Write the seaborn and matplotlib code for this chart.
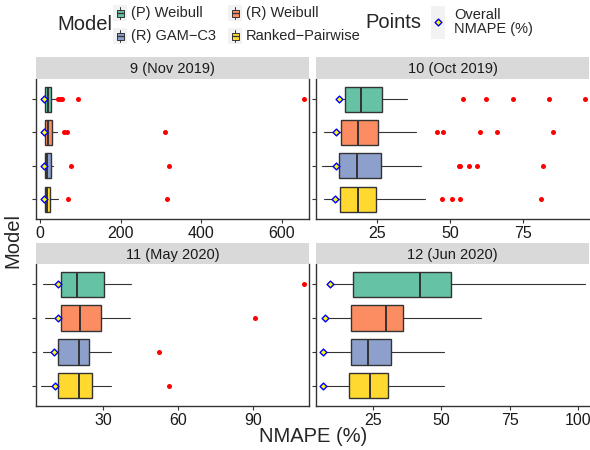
import matplotlib
matplotlib.use("Agg")
import matplotlib.pyplot as plt
from matplotlib.patches import Rectangle
import seaborn as sns
import pandas as pd
import numpy as np

# ---------------- data ----------------
models = ["(P) Weibull", "(R) Weibull", "(R) GAM\u2212C3", "Ranked\u2212Pairwise"]
colors = ["#66C2A5", "#FC8D62", "#8DA0CB", "#FFD92F"]
periods = ["9 (Nov 2019)", "10 (Oct 2019)", "11 (May 2020)", "12 (Jun 2020)"]

# Nov 2019
nov_whislo = [6.0, 6.0, 6.0, 6.0]
nov_q1 = [12.0, 12.0, 12.0, 12.0]
nov_med = [19.0, 20.5, 18.0, 16.5]
nov_q3 = [26.5, 29.0, 27.0, 25.0]
nov_whishi = [41.0, 43.0, 33.0, 45.0]
nov_overall = [10.7, 10.5, 9.5, 9.5]
nov_out = [[45, 50, 54, 93.5, 655], [60, 68, 310], [76, 321], [69, 316]]

# Oct 2019
oct_whislo = [13.5, 6.8, 6.1, 6.8]
oct_q1 = [14.0, 12.7, 12.0, 12.4]
oct_med = [19.4, 18.6, 18.3, 18.6]
oct_q3 = [26.8, 25.4, 26.4, 24.8]
oct_whishi = [35.4, 38.4, 40.0, 41.4]
oct_overall = [12.1, 10.9, 11.1, 10.7]
oct_out = [[54.3, 62.3, 71.7, 83.8, 96.3], [45.5, 47.7, 60.3, 66.2, 85.2],
           [53.0, 53.3, 56.5, 59.3, 82.0], [47.1, 50.6, 53.5, 81.3]]

# May 2020
may_whislo = [6.1, 6.8, 6.1, 5.1]
may_q1 = [13.1, 13.1, 11.9, 12.1]
may_med = [19.5, 20.8, 20.4, 20.4]
may_q3 = [30.5, 29.1, 24.5, 25.7]
may_whishi = [41.1, 40.7, 33.2, 33.2]
may_overall = [11.9, 12.0, 10.5, 10.8]
may_out = [[110.5], [90.9], [52.5], [56.3]]

# Jun 2020
jun_whislo = [9.5, 7.8, 6.8, 6.6]
jun_q1 = [17.6, 17.0, 16.8, 16.1]
jun_med = [42.0, 29.6, 23.3, 23.9]
jun_q3 = [53.5, 36.1, 31.7, 30.6]
jun_whishi = [102.6, 64.4, 51.1, 51.0]
jun_overall = [9.3, 7.5, 6.8, 6.6]
jun_out = [[], [], [], []]

xlims = [(-10, 668), (4.1, 97.6), (3.2, 112.4), (4.1, 104.0)]
xticks = [[0, 200, 400, 600], [25, 50, 75], [30, 60, 90], [25, 50, 75, 100]]

panels = [
    (nov_whislo, nov_q1, nov_med, nov_q3, nov_whishi, nov_overall, nov_out),
    (oct_whislo, oct_q1, oct_med, oct_q3, oct_whishi, oct_overall, oct_out),
    (may_whislo, may_q1, may_med, may_q3, may_whishi, may_overall, may_out),
    (jun_whislo, jun_q1, jun_med, jun_q3, jun_whishi, jun_overall, jun_out),
]

# ---------------- style ----------------
sns.set_theme(style="white")
plt.rcParams["font.family"] = ["Liberation Sans", "DejaVu Sans"]

W, H = 590, 450
fig = plt.figure(figsize=(W / 100, H / 100), dpi=100)


def px_axes(l, r, t, b):
    return fig.add_axes([l / W, 1 - b / H, (r - l) / W, (b - t) / H])


boxes_px = [(36, 309, 79, 219), (316, 589, 79, 219),
            (36, 309, 264, 406), (316, 589, 264, 406)]
strips_px = [(36, 309, 57, 79), (316, 589, 57, 79),
             (36, 309, 243, 264), (316, 589, 243, 264)]

edge = "#333333"
for i, (pdata, (l, r, t, b), (sl, sr, st, sb)) in enumerate(zip(panels, boxes_px, strips_px)):
    wlo, q1, med, q3, whi, overall, outs = pdata
    ax = px_axes(l, r, t, b)
    stats = []
    for k in range(4):
        stats.append(dict(whislo=wlo[k], q1=q1[k], med=med[k], q3=q3[k],
                          whishi=whi[k], fliers=[], label=models[k]))
    bp = ax.bxp(stats, positions=list(range(4)), widths=0.75,
                orientation="horizontal", patch_artist=True,
                showfliers=False, showcaps=False,
                boxprops=dict(linewidth=1.0, edgecolor=edge),
                medianprops=dict(color=edge, linewidth=1.4),
                whiskerprops=dict(color=edge, linewidth=0.8))
    for patch, c in zip(bp["boxes"], colors):
        patch.set_facecolor(c)
    # outliers
    ox, oy = [], []
    for k in range(4):
        for v in outs[k]:
            ox.append(v)
            oy.append(k)
    if ox:
        sns.scatterplot(x=ox, y=oy, ax=ax, color="#FF0000", s=13,
                        linewidth=0, legend=False, zorder=3)
    # overall points
    sns.scatterplot(x=overall, y=list(range(4)), ax=ax, marker="D", s=12,
                    facecolor="#FFFF00", edgecolor="#0000FF", linewidth=1.0,
                    legend=False, zorder=4)
    ax.set_xlim(*xlims[i])
    ax.set_ylim(3.6, -0.6)
    ax.set_xticks(xticks[i])
    ax.set_xticklabels([str(v) for v in xticks[i]], fontsize=11.5, color="#1A1A1A")
    ax.set_yticks(range(4))
    ax.set_yticklabels([])
    ax.set_xlabel("")
    ax.set_ylabel("")
    ax.tick_params(axis="both", length=3, width=0.8, color=edge, pad=2,
                   left=True, bottom=True)
    for s in ["top", "right"]:
        ax.spines[s].set_visible(False)
    for s in ["left", "bottom"]:
        ax.spines[s].set_color(edge)
        ax.spines[s].set_linewidth(1.0)
    if i in (0, 2):
        ax.spines["right"].set_visible(True)
        ax.spines["right"].set_color(edge)
        ax.spines["right"].set_linewidth(1.0)
    ax.set_facecolor("white")
    # strip
    sax = px_axes(sl, sr, st, sb)
    sax.set_facecolor("#D9D9D9")
    sax.set_xticks([])
    sax.set_yticks([])
    for s in sax.spines.values():
        s.set_visible(False)
    sax.text(0.5, 0.45, periods[i], ha="center", va="center", fontsize=10.5,
             color="#1A1A1A", transform=sax.transAxes)

# axis titles
fig.text(313 / W, 1 - 437 / H, "NMAPE (%)", ha="center", va="center", fontsize=14.5)
fig.text(13 / W, 1 - 240 / H, "Model", ha="center", va="center", fontsize=14.5,
         rotation=90)

# ---------------- legend (drawn in pixel space) ----------------
lax = fig.add_axes([0, 0, 1, 1])
lax.set_xlim(0, W)
lax.set_ylim(H, 0)
lax.axis("off")
lax.patch.set_alpha(0)

lax.text(112, 25, "Model", ha="right", va="center", fontsize=14.5)
key_pos = [(120, 13), (235, 13), (120, 36), (235, 36)]
for (kx, ky), lab, c in zip(key_pos, models, colors):
    lax.add_patch(Rectangle((kx - 7, ky - 8), 14, 16, facecolor="#F2F2F2",
                            edgecolor="none", zorder=1))
    lax.plot([kx, kx], [ky - 6, ky + 6], color=edge, lw=0.7, zorder=2)
    lax.add_patch(Rectangle((kx - 3.5, ky - 3.5), 7, 7, facecolor=c,
                            edgecolor=edge, lw=0.7, zorder=3))
    lax.plot([kx - 3.5, kx + 3.5], [ky, ky], color=edge, lw=0.9, zorder=4)
    lax.text(kx + 11, ky, lab, ha="left", va="center", fontsize=10.5)

lax.text(421, 23, "Points", ha="right", va="center", fontsize=14.5)
lax.add_patch(Rectangle((431, 6), 14, 33, facecolor="#F2F2F2", edgecolor="none"))
lax.scatter([438], [22], marker="D", s=12, facecolor="#FFFF00",
            edgecolor="#0000FF", linewidth=1.0, zorder=3)
lax.text(454, 22, "Overall\nNMAPE (%)", ha="left", va="center", fontsize=10.5,
         linespacing=1.0)

fig.savefig("out.png", dpi=100)
